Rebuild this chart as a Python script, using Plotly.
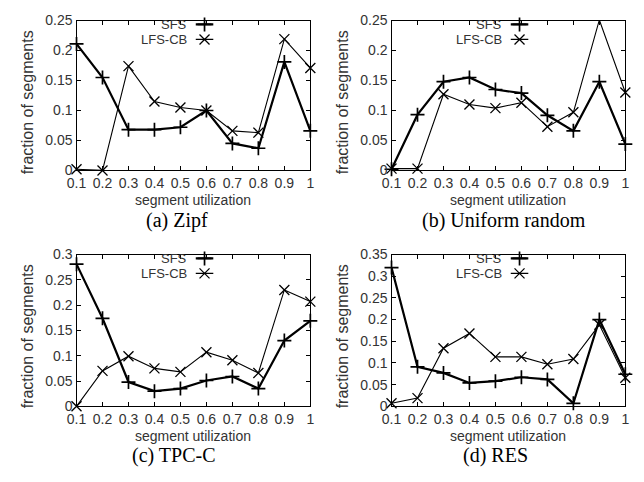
import plotly.graph_objects as go

utilization = [0.1, 0.2, 0.3, 0.4, 0.5, 0.6, 0.7, 0.8, 0.9, 1.0]
x_tick_labels = ["0.1", "0.2", "0.3", "0.4", "0.5", "0.6", "0.7", "0.8", "0.9", "1"]

zipf_sfs = [0.211, 0.155, 0.068, 0.068, 0.072, 0.100, 0.045, 0.037, 0.181, 0.066]
zipf_lfscb = [0.002, 0.000, 0.174, 0.115, 0.105, 0.100, 0.066, 0.063, 0.219, 0.171]

uniform_sfs = [0.002, 0.093, 0.148, 0.155, 0.135, 0.129, 0.092, 0.066, 0.148, 0.044]
uniform_lfscb = [0.003, 0.003, 0.127, 0.110, 0.104, 0.113, 0.073, 0.097, 0.251, 0.130]

tpcc_sfs = [0.281, 0.174, 0.048, 0.030, 0.035, 0.051, 0.059, 0.035, 0.130, 0.169]
tpcc_lfscb = [0.000, 0.070, 0.099, 0.075, 0.068, 0.107, 0.091, 0.066, 0.230, 0.207]

res_sfs = [0.320, 0.091, 0.077, 0.054, 0.058, 0.067, 0.062, 0.007, 0.200, 0.074]
res_lfscb = [0.007, 0.019, 0.134, 0.168, 0.114, 0.114, 0.097, 0.109, 0.188, 0.066]

captions = ["(a) Zipf", "(b) Uniform random", "(c) TPC-C", "(d) RES"]
y_max = [0.25, 0.25, 0.3, 0.35]
series_names = ["SFS", "LFS-CB"]

panels = [
    (zipf_sfs, zipf_lfscb),
    (uniform_sfs, uniform_lfscb),
    (tpcc_sfs, tpcc_lfscb),
    (res_sfs, res_lfscb),
]

W, H = 644, 482
# plot-area pixel boxes (left, right, top, bottom)
boxes = [(68, 307, 13, 168), (390, 629, 13, 168), (68, 307, 255, 412), (390, 629, 255, 412)]
xtitle_y = [198.5, 198.5, 443, 443]
caption_xy = [(171, 220), (505, 220), (168, 463), (496, 463)]
ytitle_xy = [(18, 98), (340, 98), (18, 340), (340, 340)]

TICKFONT = dict(family="Liberation Sans, Arial, sans-serif", size=14, color="#333333")
LEGFONT = dict(family="Liberation Sans, Arial, sans-serif", size=13, color="#333333")
YTITLEFONT = dict(family="Liberation Sans, Arial, sans-serif", size=16, color="#333333")

fig = go.Figure()
layout = dict(
    width=W, height=H, margin=dict(l=0, r=0, t=0, b=0),
    paper_bgcolor="white", plot_bgcolor="white", showlegend=False,
)
annotations = []

styles = [
    dict(line=dict(color="black", width=2.2), marker=dict(symbol="cross-thin", size=10, line=dict(color="black", width=1.7))),
    dict(line=dict(color="black", width=1.1), marker=dict(symbol="x-thin", size=10, line=dict(color="black", width=1.3))),
]

for i, (series, box) in enumerate(zip(panels, boxes)):
    n = "" if i == 0 else str(i + 1)
    xa, ya = "x" + n, "y" + n
    l, r, t, b = box
    layout["xaxis" + n] = dict(
        domain=[l / W, r / W], anchor=ya, range=[0.1, 1.0],
        tickvals=utilization, ticktext=x_tick_labels,
        ticks="inside", ticklen=4, tickcolor="black", showline=True, linecolor="black",
        linewidth=1.3, mirror="allticks", showgrid=False, zeroline=False, tickfont=TICKFONT,
    )
    layout["yaxis" + n] = dict(
        domain=[1 - b / H, 1 - t / H], anchor=xa, range=[0, y_max[i]], dtick=0.05,
        ticks="inside", ticklen=4, tickcolor="black", showline=True, linecolor="black",
        linewidth=1.3, mirror="allticks", showgrid=False, zeroline=False, tickfont=TICKFONT,
    )
    for name, vals, st in zip(series_names, series, styles):
        fig.add_trace(go.Scatter(
            x=utilization, y=vals, mode="lines+markers", name=name,
            xaxis=xa, yaxis=ya, cliponaxis=False, **st,
        ))
    # legend (text on the left, sample on the right)
    hgt = b - t
    for k, (name, st) in enumerate(zip(series_names, styles)):
        yd = 1 - [4, 19.5][k] / hgt
        annotations.append(dict(
            text=name, xref=xa + " domain", yref=ya + " domain", x=0.476, y=yd,
            xanchor="right", yanchor="middle", showarrow=False, font=LEGFONT, borderpad=0,
        ))
        x0d, x1d = 0.51, 0.585
        xs = [0.1 + 0.9 * x0d, 0.1 + 0.9 * (x0d + x1d) / 2, 0.1 + 0.9 * x1d]
        ys = [y_max[i] * yd] * 3
        fig.add_trace(go.Scatter(
            x=xs, y=ys, mode="lines", xaxis=xa, yaxis=ya, cliponaxis=False,
            line=st["line"], hoverinfo="skip",
        ))
        fig.add_trace(go.Scatter(
            x=[xs[1]], y=[ys[1]], mode="markers", xaxis=xa, yaxis=ya, cliponaxis=False,
            marker=st["marker"], hoverinfo="skip",
        ))
    cx = (l + r) / 2 / W
    annotations.append(dict(
        text="segment utilization", xref="paper", yref="paper", x=cx, y=1 - xtitle_y[i] / H,
        xanchor="center", yanchor="middle", showarrow=False, font=TICKFONT, borderpad=0,
    ))
    capx, capy = caption_xy[i]
    annotations.append(dict(
        text=captions[i], xref="paper", yref="paper", x=capx / W, y=1 - capy / H,
        xanchor="center", yanchor="middle", showarrow=False, borderpad=0,
        font=dict(family="Liberation Serif, Times New Roman, serif", size=20, color="black"),
    ))
    ytx, yty = ytitle_xy[i]
    annotations.append(dict(
        text="fraction of segments", xref="paper", yref="paper", x=ytx / W,
        y=1 - yty / H, xanchor="center", yanchor="middle", textangle=-90,
        showarrow=False, font=YTITLEFONT, borderpad=0,
    ))

layout["annotations"] = annotations
fig.update_layout(**layout)
fig.write_html("out.html")
